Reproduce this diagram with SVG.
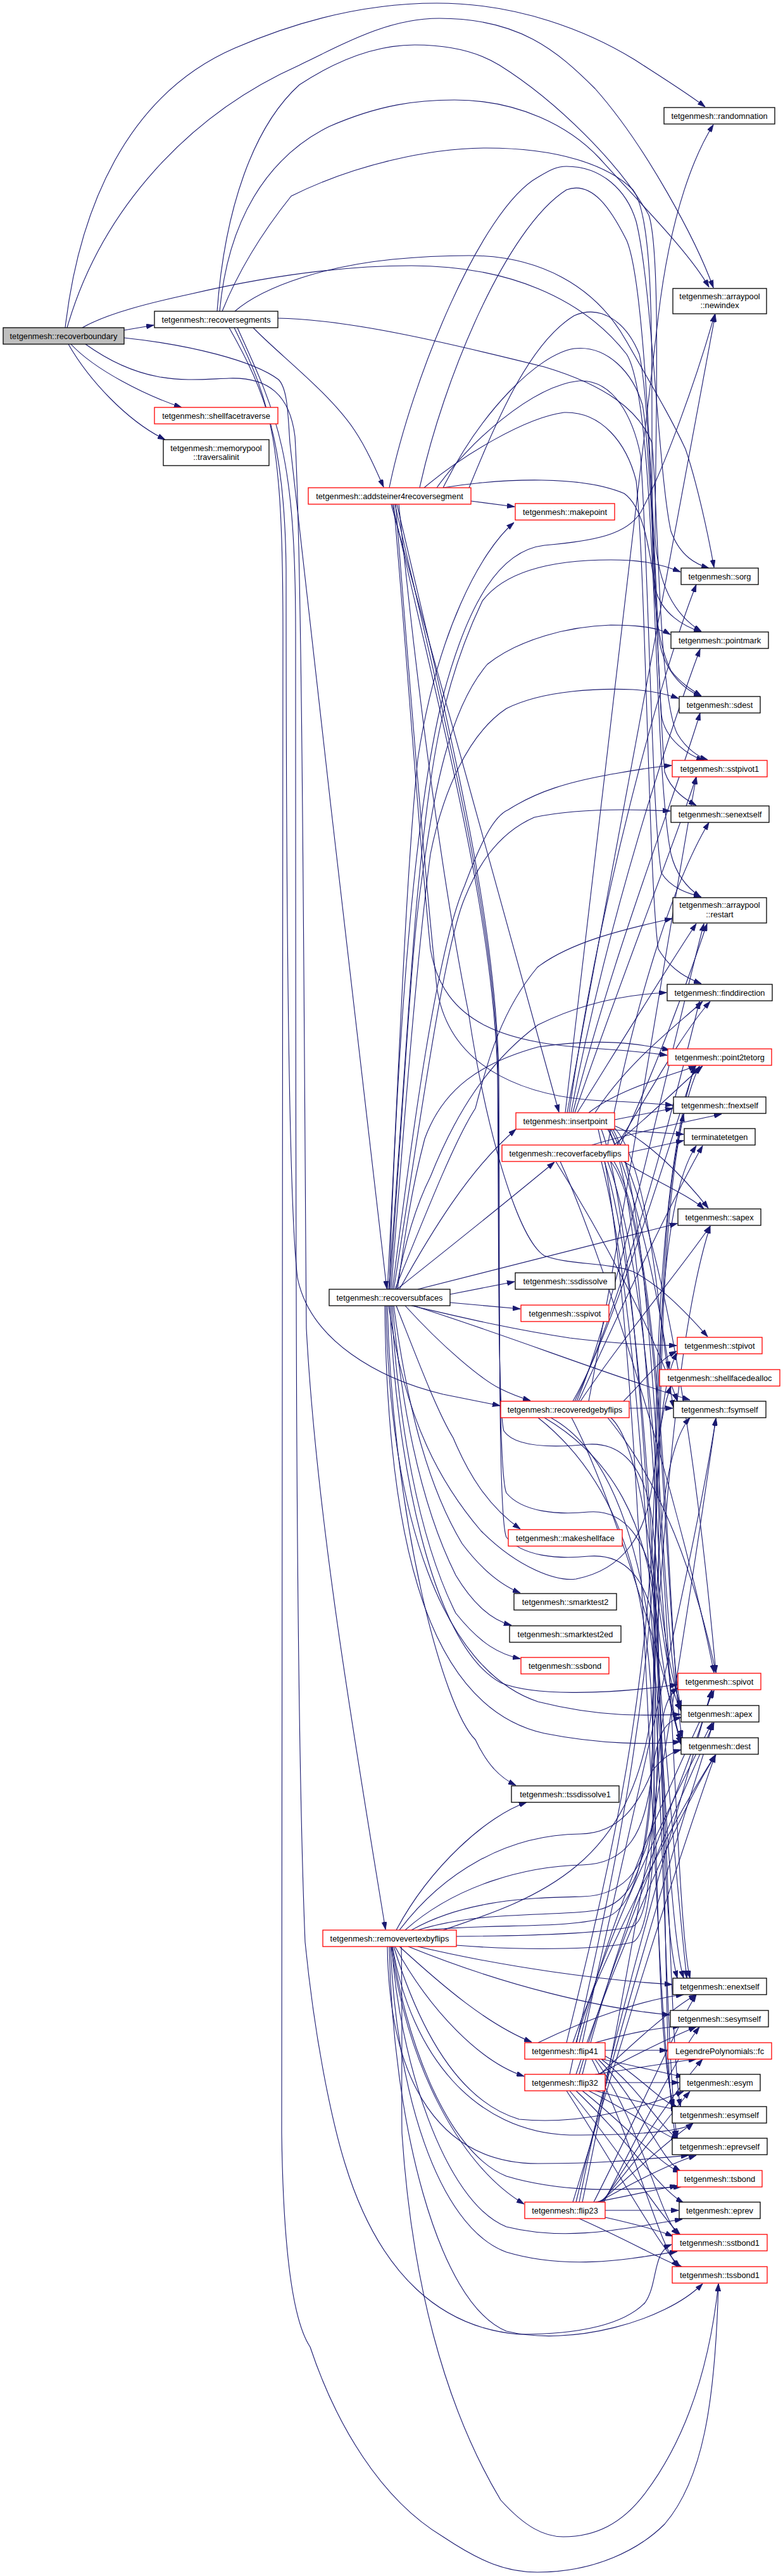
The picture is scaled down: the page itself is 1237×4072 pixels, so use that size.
<svg xmlns="http://www.w3.org/2000/svg" width="1237" height="4072" viewBox="0 0 1237 4072">
<defs>
<marker id="ah" viewBox="0 0 12 8" refX="12" refY="4" markerWidth="12" markerHeight="8" markerUnits="userSpaceOnUse" orient="auto"><path d="M0,0L12,4L0,8z" fill="#191970" stroke="#191970" stroke-width="0.8"/></marker>
<style>
.n rect{fill:#fff;stroke:#000;stroke-width:1.3}
.r rect{stroke:#f00}
.g rect{fill:#bfbfbf}
text{font-family:"Liberation Sans",Arial,sans-serif;font-size:12.8px;text-anchor:middle;fill:#000}
#edges path{fill:none;stroke:#191970;stroke-width:1.1;marker-end:url(#ah)}
</style>
</defs>
<rect width="1237" height="4072" fill="#fff"/>
<g id="edges">
<!-- recoverboundary -->
<path d="M103,518 C125,330 200,150 371,76 C500,20 610,5 690,5 C820,5 930,50 1002,94 C1050,125 1090,150 1114,169"/>
<path d="M106,518 C160,330 300,180 473,103 C560,60 620,29 694,29 C820,29 880,80 940,140 C1020,230 1100,380 1127,455"/>
<path d="M196,522 L243,514"/>
<path d="M112,544 C150,585 230,625 287,644"/>
<path d="M108,544 C140,600 200,665 261,695"/>
<path d="M196,534 C300,545 400,570 440,600 C455,615 455,660 458,700 C500,1100 580,1750 611,2037"/>
<path d="M135,544 C230,612 300,600 362,598 C425,596 458,625 466,690 C478,900 480,1600 484,2100 C500,2400 560,2750 609,3050"/>
<path d="M130,518 C170,495 240,478 300,465 C450,430 560,420 650,420 C800,420 920,470 990,560 C1040,640 1030,1200 1060,1350 C1070,1390 1095,1410 1107,1418"/>
<!-- recoversegments -->
<path d="M347,492 C360,350 420,250 520,200 C600,165 660,158 718,158 C820,158 900,200 947,250 C1010,320 1090,400 1120,454"/>
<path d="M343,492 C355,330 400,200 473,134 C540,90 600,71 655,71 C720,71 760,85 789,103 C880,160 980,260 1025,340 C1045,400 1035,700 1035,850 C1040,930 1070,975 1108,998"/>
<path d="M351,492 C380,420 420,360 460,310 C560,260 680,234 769,234 C880,234 960,260 1000,300 C1030,340 1030,500 1030,700 C1030,900 1030,1000 1060,1060 C1075,1080 1095,1092 1108,1100"/>
<path d="M371,492 C420,450 520,420 620,410 C680,404 720,404 741,404 C850,404 940,450 990,540 C1030,610 1060,660 1083,710 C1100,760 1118,840 1128,897"/>
<path d="M439,503 C550,505 700,540 860,580 C960,610 1010,650 1030,700 C1040,800 1040,1100 1070,1160 C1085,1185 1105,1197 1118,1201"/>
<path d="M400,518 C440,560 520,620 560,680 C580,710 595,745 606,770"/>
<path d="M362,518 C420,620 450,700 452,900 C452,1400 455,1900 470,2020 C490,2120 600,2180 700,2204 C740,2212 760,2216 790,2222"/>
<path d="M370,518 C430,640 447,700 447,1000 C446,2000 440,3000 445,3372 C448,3600 470,3680 490,3710 C530,3830 600,3950 700,4010 C760,4050 800,4066 849,4066 C940,4066 1010,4030 1050,3990 C1110,3920 1130,3800 1135,3610"/>
<path d="M375,518 C440,660 467,720 467,1000 C467,2000 467,2700 482,3070 C500,3250 530,3372 545,3420 C600,3600 700,3680 820,3690 C900,3690 980,3680 1019,3640 C1040,3610 1030,3560 1061,3548"/>
<!-- addsteiner4recoversegment -->
<path d="M744,792 L813,801"/>
<path d="M700,771 C800,755 920,752 986,780 C1015,800 1025,860 1035,930 C1045,970 1080,990 1108,999"/>
<path d="M618,797 L883,1758"/>
<path d="M615,771 C650,600 760,330 850,280 C870,268 880,263 895,263 C950,263 990,300 1005,350 C1030,450 1040,750 1060,840 C1075,880 1100,892 1120,898"/>
<path d="M663,771 C700,600 800,360 895,300 C935,285 965,330 990,380 C1020,450 1030,800 1040,1000 C1045,1060 1080,1090 1108,1101"/>
<path d="M741,771 C790,650 840,540 907,499 C950,480 990,510 1010,560 C1030,650 1035,1000 1045,1130 C1050,1170 1090,1195 1112,1202"/>
<path d="M700,771 C760,650 850,560 907,551 C960,545 1000,590 1015,640 C1030,720 1040,1100 1050,1220 C1060,1250 1085,1265 1100,1273"/>
<path d="M690,771 C740,700 840,610 915,602 C970,600 1000,660 1012,720 C1025,900 1030,1300 1045,1380 C1060,1405 1090,1413 1108,1418"/>
<path d="M670,771 C730,720 830,660 891,652 C950,650 990,700 1005,760 C1020,900 1025,1400 1040,1500 C1060,1535 1090,1548 1108,1555"/>
<path d="M622,797 C640,1000 660,1300 680,1500 C700,1620 800,1650 950,1658 C1000,1661 1030,1665 1054,1668"/>
<path d="M625,797 C645,1050 668,1350 690,1560 C710,1700 850,1735 950,1740 C1000,1742 1040,1745 1063,1747"/>
<path d="M630,797 C660,1100 700,1400 740,1600 C770,1800 820,1960 860,1985 C900,2000 960,1995 1000,2010 C1040,2030 1080,2070 1118,2113"/>
<path d="M620,797 C700,1150 780,1450 786,1700 C788,1900 786,2230 796,2262 C815,2290 880,2288 930,2283 C990,2280 1020,2330 1030,2400 C1040,2500 1050,2620 1076,2700"/>
<path d="M624,797 C705,1150 782,1450 787,1700 C789,1950 786,2330 800,2360 C825,2390 880,2395 930,2390 C990,2385 1020,2440 1032,2500 C1042,2600 1055,2700 1076,2752"/>
<path d="M627,797 C710,1150 784,1450 788,1700 C790,2000 786,2400 800,2430 C825,2460 880,2465 930,2460 C990,2455 1020,2500 1032,2560 C1045,2650 1060,2900 1085,3127"/>
<!-- recoversubfaces -->
<path d="M612,2038 C630,1700 640,1400 660,1200 C690,1000 760,870 812,826"/>
<path d="M615,2038 C625,1700 650,1300 700,1100 C740,950 790,870 860,862 C940,855 990,845 1012,810 C1050,740 1100,600 1129,497"/>
<path d="M614,2038 C640,1700 650,1500 661,1400 C680,1200 700,1080 762,950 C800,900 880,885 965,885 C1010,885 1040,890 1075,904"/>
<path d="M616,2038 C640,1700 650,1500 665,1400 C685,1250 710,1120 770,1050 C820,1010 900,990 965,988 C1010,988 1040,992 1059,1003"/>
<path d="M618,2038 C640,1750 660,1500 680,1350 C700,1250 740,1160 800,1120 C860,1090 950,1088 1000,1090 C1030,1092 1055,1098 1072,1104"/>
<path d="M620,2038 C650,1800 690,1500 734,1400 C760,1330 780,1290 803,1280 C850,1250 900,1236 960,1225 C1000,1218 1030,1212 1061,1210"/>
<path d="M622,2038 C660,1800 700,1500 734,1420 C750,1380 780,1320 844,1292 C900,1280 980,1278 1059,1282"/>
<path d="M624,2038 C680,1900 720,1800 751,1752 C770,1680 790,1600 849,1529 C900,1490 980,1470 1062,1452"/>
<path d="M626,2038 C640,1960 660,1900 680,1860 C720,1760 770,1680 850,1620 C920,1585 990,1572 1053,1569"/>
<path d="M628,2038 C640,1950 650,1880 671,1800 C700,1720 760,1680 850,1655 C950,1640 1010,1650 1058,1660"/>
<path d="M631,2038 C680,1950 740,1850 815,1785"/>
<path d="M627,2038 C700,1980 800,1900 876,1837"/>
<path d="M660,2038 L1070,1934"/>
<path d="M711,2046 L813,2026"/>
<path d="M711,2059 L822,2069"/>
<path d="M650,2064 C720,2080 800,2100 900,2115 C980,2125 1030,2126 1069,2127"/>
<path d="M653,2064 C800,2110 950,2170 1090,2213"/>
<path d="M640,2064 C700,2130 760,2180 790,2195 C810,2205 825,2210 838,2214"/>
<path d="M626,2064 C660,2150 690,2230 716,2273 C740,2330 770,2380 822,2417"/>
<path d="M622,2064 C640,2200 670,2340 730,2440 C760,2480 790,2505 822,2518"/>
<path d="M620,2064 C635,2230 665,2380 720,2490 C750,2540 780,2562 808,2569"/>
<path d="M618,2064 C630,2250 660,2430 720,2550 C760,2600 790,2615 822,2622"/>
<path d="M616,2064 C625,2300 680,2600 791,2660 C840,2680 950,2680 1070,2663"/>
<path d="M614,2064 C640,2250 700,2350 760,2420 C820,2480 880,2500 910,2496 C990,2480 1020,2420 1030,2350 C1040,2280 1045,2230 1060,2191"/>
<path d="M612,2064 C620,2400 700,2700 751,2750 C770,2790 790,2810 815,2822"/>
<path d="M610,2064 C615,2400 700,2640 850,2690 C950,2715 1020,2712 1075,2710"/>
<path d="M608,2064 C612,2450 680,2700 860,2740 C950,2758 1030,2758 1075,2753"/>
<!-- insertpoint -->
<path d="M893,1759 C960,1200 1020,700 1040,500 C1060,330 1100,240 1127,197"/>
<path d="M896,1759 L1130,497"/>
<path d="M899,1759 C950,1400 1050,1050 1100,924"/>
<path d="M902,1759 C960,1450 1060,1150 1106,1026"/>
<path d="M905,1759 C970,1500 1070,1250 1106,1127"/>
<path d="M908,1759 C980,1550 1070,1320 1100,1228"/>
<path d="M912,1759 C980,1650 1060,1520 1100,1460"/>
<path d="M930,1759 C980,1720 1060,1700 1100,1685"/>
<path d="M940,1759 C990,1680 1070,1620 1110,1583"/>
<path d="M971,1770 L1063,1752"/>
<path d="M955,1785 L1080,1793"/>
<path d="M972,1780 C1020,1800 1080,1860 1119,1910"/>
<path d="M962,1785 C1010,1900 1040,2050 1057,2164"/>
<path d="M971,1783 C1030,1850 1040,2100 1064,2225"/>
<path d="M965,1785 C1050,1950 1100,2300 1131,2644"/>
<path d="M968,1785 C1040,1900 1040,2600 1076,2705"/>
<path d="M960,1785 C1030,1900 1035,2650 1076,2757"/>
<path d="M950,1785 C1030,2000 1040,3000 1080,3127"/>
<path d="M945,1785 C1020,2100 1030,3200 1064,3332"/>
<!-- recoverfacebyflips -->
<path d="M993,1822 L1080,1803"/>
<path d="M935,1810 C1000,1790 1100,1770 1140,1761"/>
<path d="M970,1810 C1020,1770 1070,1720 1110,1685"/>
<path d="M975,1810 C1030,1720 1080,1630 1122,1583"/>
<path d="M980,1810 C1040,1680 1090,1540 1117,1460"/>
<path d="M960,1810 C1000,1600 1060,1400 1120,1300"/>
<path d="M985,1836 C1040,1870 1090,1890 1112,1911"/>
<path d="M878,1836 C950,1950 1030,2100 1070,2215"/>
<path d="M885,1836 C960,2000 1080,2400 1128,2644"/>
<path d="M965,1836 C1050,1950 1050,2600 1076,2700"/>
<path d="M970,1836 C1055,1980 1055,2650 1078,2747"/>
<path d="M960,1836 C1060,2100 1060,3000 1090,3127"/>
<path d="M955,1836 C1050,2150 1050,3200 1075,3330"/>
<path d="M950,1836 C1045,2200 1045,3250 1070,3380"/>
<!-- recoveredgebyflips -->
<path d="M994,2226 L1063,2226"/>
<path d="M985,2215 C1020,2180 1040,2150 1069,2136"/>
<path d="M905,2215 C960,2120 1030,1900 1098,1685"/>
<path d="M908,2215 C965,2100 1040,1850 1105,1583"/>
<path d="M911,2215 C970,2080 1050,1700 1112,1460"/>
<path d="M914,2215 C975,2080 1060,1900 1110,1811"/>
<path d="M917,2215 C980,2120 1080,2000 1122,1938"/>
<path d="M930,2215 C990,1900 1060,1450 1100,1228"/>
<path d="M960,2241 C1050,2350 1100,2500 1131,2644"/>
<path d="M965,2241 C1030,2300 1040,2650 1076,2703"/>
<path d="M903,2241 C960,2350 1040,2600 1076,2758"/>
<path d="M860,2241 C960,2300 1030,2400 1040,2600 C1050,2900 1050,3050 1070,3127"/>
<path d="M850,2241 C950,2320 1020,2450 1030,2700 C1040,3000 1040,3250 1065,3330"/>
<path d="M870,2241 C980,2300 1035,2500 1045,2800 C1055,3100 1050,3300 1068,3380"/>
<!-- removevertexbyflips -->
<path d="M626,3051 C680,2950 770,2870 832,2849"/>
<path d="M631,3051 C700,2960 800,2900 917,2899 C980,2898 1010,2850 1030,2800 C1045,2780 1060,2770 1076,2766"/>
<path d="M640,3051 C720,2980 830,2950 920,2948 C990,2946 1020,2900 1030,2800 C1040,2740 1050,2720 1076,2715"/>
<path d="M650,3051 C740,3000 850,3000 920,2998 C990,2996 1025,2950 1035,2850 C1045,2750 1040,2690 1071,2668"/>
<path d="M660,3051 C760,3020 870,3030 940,3020 C1000,3010 1025,2950 1030,2800 C1035,2500 1040,2300 1090,2241"/>
<path d="M672,3051 C780,3040 900,3050 960,3030 C1010,3010 1030,2900 1032,2700 C1034,2400 1035,2200 1070,2138"/>
<path d="M700,3051 C850,3000 1000,2950 1030,2700 C1050,2400 1070,2100 1122,1938"/>
<path d="M721,3061 C850,3060 960,3055 1000,3045 C1030,3030 1035,2900 1035,2600 C1035,2200 1040,1900 1100,1811"/>
<path d="M721,3075 C850,3085 960,3080 1000,3070 C1030,3055 1040,2900 1040,2600 C1040,2100 1050,1800 1105,1685"/>
<path d="M660,3077 C800,3110 950,3130 1062,3137"/>
<path d="M645,3077 C800,3140 950,3175 1058,3185"/>
<path d="M631,3077 C700,3140 770,3200 840,3228"/>
<path d="M624,3077 C680,3180 760,3260 828,3282"/>
<path d="M622,3077 C660,3200 720,3320 820,3350 C920,3360 1020,3330 1080,3306"/>
<path d="M620,3077 C650,3250 750,3370 900,3375 C1000,3375 1080,3370 1095,3356"/>
<path d="M612,3077 C615,3300 700,3420 850,3420 C950,3420 1000,3415 1088,3407"/>
<path d="M618,3077 C640,3250 720,3420 828,3484"/>
<path d="M620,3077 C635,3200 700,3400 800,3440 C900,3470 1000,3460 1076,3457"/>
<path d="M619,3077 C630,3250 700,3480 800,3520 C900,3545 1000,3520 1078,3508"/>
<path d="M617,3077 C625,3300 690,3520 800,3560 C900,3590 1000,3570 1070,3559"/>
<path d="M615,3077 C620,3350 690,3640 800,3685 C900,3710 1050,3670 1110,3610"/>
<path d="M634,3077 C636,3200 634,3300 635,3372 C650,3600 700,3800 791,3952 C830,3995 860,4010 890,4010 C940,4010 983,3990 1020,3940 C1080,3860 1120,3750 1135,3610"/>
<!-- flip41 -->
<path d="M850,3229 C930,3190 1020,3160 1080,3153"/>
<path d="M940,3229 C990,3215 1040,3205 1075,3203"/>
<path d="M956,3241 L1054,3241"/>
<path d="M950,3255 C1000,3265 1040,3275 1080,3283"/>
<path d="M956,3250 C1010,3280 1040,3320 1072,3332"/>
<path d="M950,3255 C1010,3300 1040,3360 1072,3382"/>
<path d="M945,3255 C1010,3320 1040,3410 1075,3432"/>
<path d="M940,3255 C1010,3350 1040,3500 1072,3533"/>
<path d="M935,3255 C1000,3380 1040,3550 1072,3584"/>
<path d="M905,3229 C950,3100 1050,2900 1130,2774"/>
<path d="M910,3229 C960,3050 1060,2850 1125,2723"/>
<path d="M915,3229 C970,3000 1070,2800 1128,2672"/>
<path d="M920,3229 C990,2900 1090,2500 1131,2242"/>
<path d="M895,3229 C950,3000 1030,2700 1035,2300 C1040,2000 1060,1800 1098,1685"/>
<!-- flip32 -->
<path d="M956,3292 L1073,3292"/>
<path d="M940,3279 C1000,3270 1060,3260 1100,3255"/>
<path d="M945,3279 C1000,3250 1060,3220 1100,3204"/>
<path d="M948,3279 C1000,3230 1060,3175 1100,3153"/>
<path d="M940,3305 C1000,3320 1040,3330 1072,3335"/>
<path d="M930,3305 C1000,3340 1040,3370 1072,3384"/>
<path d="M920,3305 C990,3360 1040,3420 1075,3434"/>
<path d="M910,3305 C990,3380 1040,3460 1080,3482"/>
<path d="M900,3305 C980,3400 1040,3500 1075,3533"/>
<path d="M895,3305 C970,3420 1040,3550 1075,3584"/>
<path d="M910,3279 C970,3100 1080,2850 1131,2774"/>
<path d="M915,3279 C980,3050 1085,2820 1128,2723"/>
<path d="M920,3279 C990,3000 1090,2800 1125,2672"/>
<path d="M900,3279 C960,3000 1035,2700 1040,2300 C1045,1950 1060,1850 1080,1761"/>
<!-- flip23 -->
<path d="M956,3494 L1072,3494"/>
<path d="M940,3481 C1000,3470 1040,3460 1070,3455"/>
<path d="M956,3505 C1000,3515 1040,3525 1063,3535"/>
<path d="M915,3507 C990,3540 1050,3575 1080,3585"/>
<path d="M945,3481 C1000,3450 1060,3420 1100,3407"/>
<path d="M948,3481 C1005,3430 1060,3380 1095,3356"/>
<path d="M950,3481 C1010,3410 1060,3340 1090,3306"/>
<path d="M952,3481 C1010,3390 1070,3300 1110,3255"/>
<path d="M954,3481 C1010,3370 1070,3250 1105,3204"/>
<path d="M938,3481 C1000,3360 1070,3200 1100,3153"/>
<path d="M905,3481 C960,3300 1050,3000 1130,2774"/>
<path d="M910,3481 C965,3250 1055,2950 1127,2723"/>
<path d="M915,3481 C970,3200 1060,2900 1124,2672"/>
<path d="M920,3481 C1000,3100 1080,2600 1131,2242"/>
</g>
<g id="n_recoverboundary" class="n g"><rect x="5" y="518" width="191" height="26"/><text x="100.5" y="535.5">tetgenmesh::recoverboundary</text></g>
<g id="n_recoversegments" class="n"><rect x="244" y="492" width="195" height="26"/><text x="341.5" y="509.5">tetgenmesh::recoversegments</text></g>
<g id="n_shellfacetraverse" class="n r"><rect x="244" y="644" width="195" height="26"/><text x="341.5" y="661.5">tetgenmesh::shellfacetraverse</text></g>
<g id="n_traversalinit" class="n"><rect x="258" y="695" width="167" height="41"/><text x="341.5" y="712.5">tetgenmesh::memorypool</text><text x="341.5" y="727">::traversalinit</text></g>
<g id="n_addsteiner" class="n r"><rect x="487" y="771" width="257" height="26"/><text x="615.5" y="788.5">tetgenmesh::addsteiner4recoversegment</text></g>
<g id="n_recoversubfaces" class="n"><rect x="520" y="2038" width="191" height="26"/><text x="615.5" y="2055.5">tetgenmesh::recoversubfaces</text></g>
<g id="n_removevertexbyflips" class="n r"><rect x="510" y="3051" width="211" height="26"/><text x="615.5" y="3068.5">tetgenmesh::removevertexbyflips</text></g>
<g id="n_makepoint" class="n r"><rect x="814" y="796" width="157" height="26"/><text x="892.5" y="813.5">tetgenmesh::makepoint</text></g>
<g id="n_insertpoint" class="n r"><rect x="815" y="1759" width="156" height="26"/><text x="893" y="1776.5">tetgenmesh::insertpoint</text></g>
<g id="n_recoverfacebyflips" class="n r"><rect x="793" y="1810" width="200" height="26"/><text x="893" y="1827.5">tetgenmesh::recoverfacebyflips</text></g>
<g id="n_ssdissolve" class="n"><rect x="814" y="2012" width="158" height="26"/><text x="893" y="2029.5">tetgenmesh::ssdissolve</text></g>
<g id="n_sspivot" class="n r"><rect x="823" y="2063" width="139" height="26"/><text x="892.5" y="2080.5">tetgenmesh::sspivot</text></g>
<g id="n_recoveredgebyflips" class="n r"><rect x="791" y="2215" width="203" height="26"/><text x="892.5" y="2232.5">tetgenmesh::recoveredgebyflips</text></g>
<g id="n_makeshellface" class="n r"><rect x="803" y="2418" width="180" height="26"/><text x="893" y="2435.5">tetgenmesh::makeshellface</text></g>
<g id="n_smarktest2" class="n"><rect x="812" y="2519" width="162" height="26"/><text x="893" y="2536.5">tetgenmesh::smarktest2</text></g>
<g id="n_smarktest2ed" class="n"><rect x="805" y="2570" width="176" height="26"/><text x="893" y="2587.5">tetgenmesh::smarktest2ed</text></g>
<g id="n_ssbond" class="n r"><rect x="823" y="2620" width="139" height="26"/><text x="892.5" y="2637.5">tetgenmesh::ssbond</text></g>
<g id="n_tssdissolve1" class="n"><rect x="808" y="2823" width="170" height="26"/><text x="893" y="2840.5">tetgenmesh::tssdissolve1</text></g>
<g id="n_flip41" class="n r"><rect x="829" y="3229" width="127" height="26"/><text x="892.5" y="3246.5">tetgenmesh::flip41</text></g>
<g id="n_flip32" class="n r"><rect x="829" y="3279" width="127" height="26"/><text x="892.5" y="3296.5">tetgenmesh::flip32</text></g>
<g id="n_flip23" class="n r"><rect x="829" y="3481" width="127" height="26"/><text x="892.5" y="3498.5">tetgenmesh::flip23</text></g>
<g id="n_randomnation" class="n"><rect x="1049" y="170" width="175" height="26"/><text x="1136.5" y="187.5">tetgenmesh::randomnation</text></g>
<g id="n_newindex" class="n"><rect x="1063" y="456" width="148" height="40"/><text x="1137" y="472.5">tetgenmesh::arraypool</text><text x="1137" y="487">::newindex</text></g>
<g id="n_sorg" class="n"><rect x="1076" y="898" width="122" height="26"/><text x="1137" y="915.5">tetgenmesh::sorg</text></g>
<g id="n_pointmark" class="n"><rect x="1060" y="999" width="154" height="26"/><text x="1137" y="1016.5">tetgenmesh::pointmark</text></g>
<g id="n_sdest" class="n"><rect x="1073" y="1101" width="128" height="26"/><text x="1137" y="1118.5">tetgenmesh::sdest</text></g>
<g id="n_sstpivot1" class="n r"><rect x="1062" y="1202" width="150" height="26"/><text x="1137" y="1219.5">tetgenmesh::sstpivot1</text></g>
<g id="n_senextself" class="n"><rect x="1060" y="1274" width="155" height="26"/><text x="1137.5" y="1291.5">tetgenmesh::senextself</text></g>
<g id="n_restart" class="n"><rect x="1063" y="1419" width="148" height="40"/><text x="1137" y="1435">tetgenmesh::arraypool</text><text x="1137" y="1449.5">::restart</text></g>
<g id="n_finddirection" class="n"><rect x="1054" y="1556" width="166" height="26"/><text x="1137" y="1573.5">tetgenmesh::finddirection</text></g>
<g id="n_point2tetorg" class="n r"><rect x="1055" y="1658" width="164" height="26"/><text x="1137" y="1675.5">tetgenmesh::point2tetorg</text></g>
<g id="n_fnextself" class="n"><rect x="1064" y="1734" width="146" height="26"/><text x="1137" y="1751.5">tetgenmesh::fnextself</text></g>
<g id="n_terminatetetgen" class="n"><rect x="1081" y="1784" width="112" height="26"/><text x="1137" y="1801.5">terminatetetgen</text></g>
<g id="n_sapex" class="n"><rect x="1071" y="1911" width="131" height="26"/><text x="1136.5" y="1928.5">tetgenmesh::sapex</text></g>
<g id="n_stpivot" class="n r"><rect x="1070" y="2114" width="134" height="26"/><text x="1137" y="2131.5">tetgenmesh::stpivot</text></g>
<g id="n_shellfacedealloc" class="n r"><rect x="1042" y="2165" width="190" height="26"/><text x="1137" y="2182.5">tetgenmesh::shellfacedealloc</text></g>
<g id="n_fsymself" class="n"><rect x="1064" y="2215" width="146" height="26"/><text x="1137" y="2232.5">tetgenmesh::fsymself</text></g>
<g id="n_spivot" class="n r"><rect x="1071" y="2645" width="131" height="26"/><text x="1136.5" y="2662.5">tetgenmesh::spivot</text></g>
<g id="n_apex" class="n"><rect x="1076" y="2696" width="123" height="26"/><text x="1137.5" y="2713.5">tetgenmesh::apex</text></g>
<g id="n_dest" class="n"><rect x="1076" y="2747" width="122" height="26"/><text x="1137" y="2764.5">tetgenmesh::dest</text></g>
<g id="n_enextself" class="n"><rect x="1063" y="3127" width="148" height="26"/><text x="1137" y="3144.5">tetgenmesh::enextself</text></g>
<g id="n_sesymself" class="n"><rect x="1059" y="3178" width="155" height="26"/><text x="1136.5" y="3195.5">tetgenmesh::sesymself</text></g>
<g id="n_fc" class="n r"><rect x="1055" y="3229" width="164" height="26"/><text x="1137" y="3246.5">LegendrePolynomials::fc</text></g>
<g id="n_esym" class="n"><rect x="1074" y="3279" width="127" height="26"/><text x="1137.5" y="3296.5">tetgenmesh::esym</text></g>
<g id="n_esymself" class="n"><rect x="1062" y="3330" width="149" height="26"/><text x="1136.5" y="3347.5">tetgenmesh::esymself</text></g>
<g id="n_eprevself" class="n"><rect x="1062" y="3380" width="150" height="26"/><text x="1137" y="3397.5">tetgenmesh::eprevself</text></g>
<g id="n_tsbond" class="n r"><rect x="1070" y="3431" width="134" height="26"/><text x="1137" y="3448.5">tetgenmesh::tsbond</text></g>
<g id="n_eprev" class="n"><rect x="1073" y="3481" width="128" height="26"/><text x="1137" y="3498.5">tetgenmesh::eprev</text></g>
<g id="n_sstbond1" class="n r"><rect x="1062" y="3532" width="150" height="26"/><text x="1137" y="3549.5">tetgenmesh::sstbond1</text></g>
<g id="n_tssbond1" class="n r"><rect x="1062" y="3583" width="150" height="26"/><text x="1137" y="3600.5">tetgenmesh::tssbond1</text></g>
</svg>
